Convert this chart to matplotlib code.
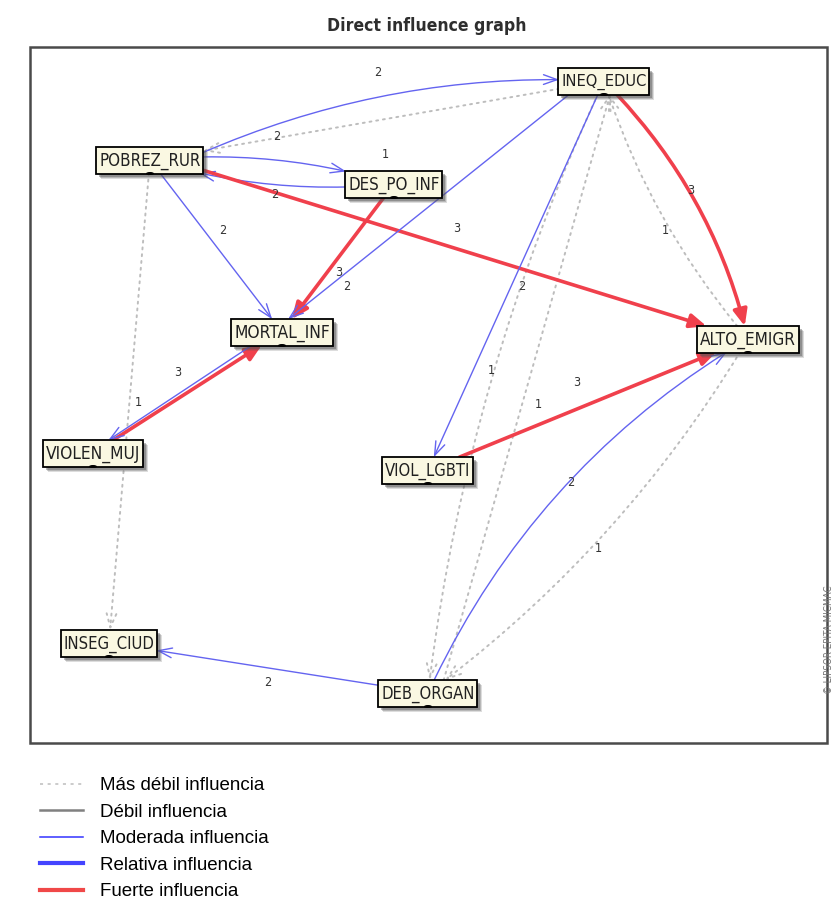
import matplotlib
matplotlib.use("Agg")
import matplotlib.pyplot as plt
from matplotlib.patches import Rectangle, FancyArrowPatch, Ellipse
from matplotlib.lines import Line2D
from matplotlib import font_manager as fm
from matplotlib.font_manager import FontProperties

# ---------------- data ----------------
node_names = ["INEQ_EDUC", "POBREZ_RUR", "DES_PO_INF", "MORTAL_INF", "ALTO_EMIGR",
              "VIOLEN_MUJ", "VIOL_LGBTI", "INSEG_CIUD", "DEB_ORGAN"]

edge_src = ["POBREZ_RUR", "INEQ_EDUC", "POBREZ_RUR", "DES_PO_INF", "POBREZ_RUR",
            "POBREZ_RUR", "DES_PO_INF", "INEQ_EDUC", "INEQ_EDUC", "INEQ_EDUC",
            "ALTO_EMIGR", "INEQ_EDUC", "DEB_ORGAN", "VIOLEN_MUJ", "MORTAL_INF",
            "POBREZ_RUR", "VIOL_LGBTI", "DEB_ORGAN", "ALTO_EMIGR", "DEB_ORGAN"]
edge_dst = ["INEQ_EDUC", "POBREZ_RUR", "DES_PO_INF", "POBREZ_RUR", "ALTO_EMIGR",
            "MORTAL_INF", "MORTAL_INF", "MORTAL_INF", "VIOL_LGBTI", "ALTO_EMIGR",
            "INEQ_EDUC", "DEB_ORGAN", "INEQ_EDUC", "MORTAL_INF", "VIOLEN_MUJ",
            "INSEG_CIUD", "ALTO_EMIGR", "ALTO_EMIGR", "DEB_ORGAN", "INSEG_CIUD"]
# influence level: 1 weakest, 2 weak, 3 moderate, 4 relative, 5 strong
edge_level = [3, 1, 3, 3, 5, 3, 5, 3, 3, 5, 1, 1, 1, 5, 3, 1, 5, 3, 1, 3]
edge_value = ["2", "2", "1", "2", "3", "2", "3", "2", "2", "3",
              "1", "1", "1", "3", "1", None, "3", "2", "1", "2"]

legend_labels = ["Más débil influencia", "Débil influencia", "Moderada influencia",
                 "Relativa influencia", "Fuerte influencia"]
title_text = "Direct influence graph"
credit_text = "© LIPSOR-EPITA-MICMAC"

# ---------------- layout (pixel space) ----------------
node_pos = {"INEQ_EDUC": (604, 81), "POBREZ_RUR": (150, 160), "DES_PO_INF": (394, 184),
            "MORTAL_INF": (282, 332), "ALTO_EMIGR": (748, 339), "VIOLEN_MUJ": (93, 453),
            "VIOL_LGBTI": (428, 470), "INSEG_CIUD": (109, 643), "DEB_ORGAN": (428, 693)}
node_w = {"INEQ_EDUC": 91, "POBREZ_RUR": 107, "DES_PO_INF": 97, "MORTAL_INF": 102,
          "ALTO_EMIGR": 102, "VIOLEN_MUJ": 100, "VIOL_LGBTI": 91, "INSEG_CIUD": 96,
          "DEB_ORGAN": 99}
node_h = 27

edge_rad = [-0.12, 0, -0.1, -0.1, 0, 0, 0, 0, 0, -0.14,
            -0.1, 0.08, 0, 0, 0, 0, 0, -0.155, -0.1, 0]
edge_offA = [(0, 0)] * 20
edge_offB = [(0, 0)] * 20
edge_offA[0] = (45, -4)
edge_offA[7] = (-18, 0); edge_offB[7] = (-10, 0)
edge_offA[12] = (12, 0); edge_offB[12] = (10, 0)
edge_offA[14] = (-10, 0); edge_offB[14] = (-4, 0)
edge_offA[4] = (20, 0)
label_pos = [(378, 73), (277, 137), (385, 155), (275, 195), (457, 228),
             (223, 231), (339, 272), (347, 287), (522, 287), (691, 190),
             (665, 230), (491, 370), (538, 405), (178, 373), (138, 402),
             None, (577, 383), (571, 483), (598, 548), (268, 683)]

W, H = 834, 906
BLUE = "#6464f0"
RED = "#f0404c"
DOT = "#bdbdbd"


def find_font(keys, bold=False):
    for key in keys:
        for f in fm.fontManager.ttflist:
            fn = f.fname.replace("-", "").replace("_", "").lower()
            if key.lower() in fn:
                isb = "bold" in fn
                if isb == bold and "oblique" not in fn and "italic" not in fn:
                    return f.fname
    return None


cond_reg = find_font(["DejaVuSansCondensed", "LiberationSansNarrow", "ArialNarrow",
                      "RobotoCondensed", "NotoSansCondensed", "OpenSansCondensed"])
cond_bold = find_font(["DejaVuSansCondensedBold", "LiberationSansNarrowBold",
                       "RobotoCondensedBold", "NotoSansCondensedBold"], bold=True)


def fp(path, fallback="Liberation Sans", weight="normal"):
    if path:
        return FontProperties(fname=path)
    return FontProperties(family=[fallback, "DejaVu Sans"], weight=weight)


fp_node = fp(cond_reg)
fp_title = fp(cond_bold, weight="bold")

fig = plt.figure(figsize=(W / 100, H / 100), dpi=100)
ax = fig.add_axes([0, 0, 1, 1])
ax.set_xlim(0, W)
ax.set_ylim(H, 0)
ax.axis("off")
renderer = fig.canvas.get_renderer()


def fit_text(t, target_w, max_size, vertical=False):
    t.set_fontsize(max_size)
    ext = t.get_window_extent(renderer=renderer)
    w = ext.height if vertical else ext.width
    if w > target_w:
        t.set_fontsize(max_size * target_w / w)


# frame
ax.add_patch(Rectangle((30, 47), 797, 696, fill=False, edgecolor="#4a4a4a", lw=1.8, zorder=1))

# title
tt = ax.text(427, 26, title_text, ha="center", va="center", color="#2e2e2e",
             fontproperties=fp_title.copy())
fit_text(tt, 200, 15)
ct = ax.text(829, 640, credit_text, rotation=90, ha="center", va="center",
             color="#777777", fontproperties=fp_node.copy())
ct.set_fontsize(7)

# node boxes
boxes = {}
for n in node_names:
    cx, cy = node_pos[n]
    w = node_w[n]
    for k, a in enumerate([0.2, 0.28, 0.4]):
        off = 5 - k
        ax.add_patch(Rectangle((cx - w / 2 + off, cy - node_h / 2 + off), w, node_h,
                               facecolor="#555555", edgecolor="none", alpha=a, zorder=5))
    r = Rectangle((cx - w / 2, cy - node_h / 2), w, node_h, facecolor="#faf8e2",
                  edgecolor="black", lw=1.3, zorder=6)
    ax.add_patch(r)
    boxes[n] = r
    ax.add_patch(Ellipse((cx, cy + node_h / 2), 8, 3, facecolor="black", zorder=7))
    t = ax.text(cx, cy + 1, n, ha="center", va="center", color="#202020",
                fontproperties=fp_node.copy(), zorder=8)
    fit_text(t, w - 5, 14)

# edges
for i in range(len(edge_src)):
    s, d, lev = edge_src[i], edge_dst[i], edge_level[i]
    (x1, y1), (x2, y2) = node_pos[s], node_pos[d]
    x1 += edge_offA[i][0]; y1 += edge_offA[i][1]
    x2 += edge_offB[i][0]; y2 += edge_offB[i][1]
    if lev == 5:
        style = dict(arrowstyle="-|>,head_length=0.7,head_width=0.3", color=RED, lw=2.6,
                     mutation_scale=14, zorder=3)
    elif lev == 3:
        style = dict(arrowstyle="->,head_length=0.7,head_width=0.25", color=BLUE, lw=1.0,
                     mutation_scale=14, zorder=3)
    elif lev == 4:
        style = dict(arrowstyle="->,head_length=0.7,head_width=0.25", color=BLUE, lw=2.5,
                     mutation_scale=14, zorder=3)
    elif lev == 2:
        style = dict(arrowstyle="->,head_length=0.7,head_width=0.25", color="#888888", lw=1.5,
                     mutation_scale=14, zorder=3)
    else:
        style = dict(arrowstyle="->,head_length=0.7,head_width=0.25", color=DOT, lw=1.4,
                     mutation_scale=14, linestyle=(0, (1, 2.5)), zorder=2)
    arr = FancyArrowPatch((x1, y1), (x2, y2), patchA=boxes[s], patchB=boxes[d],
                          shrinkA=0, shrinkB=0,
                          connectionstyle=f"arc3,rad={edge_rad[i]}", **style)
    ax.add_patch(arr)
    if edge_value[i] is not None and label_pos[i] is not None:
        lx, ly = label_pos[i]
        lt = ax.text(lx, ly, edge_value[i], ha="center", va="center",
                     color="#333333", fontproperties=fp_node.copy(), zorder=9)
        lt.set_fontsize(9)

# legend
handles = [
    Line2D([], [], color=DOT, lw=1.1, linestyle=(0, (2, 3))),
    Line2D([], [], color="#808080", lw=1.8),
    Line2D([], [], color="#3333ff", lw=1.1),
    Line2D([], [], color="#4444ff", lw=3.0),
    Line2D([], [], color="#f04848", lw=3.0),
]
leg = ax.legend(handles, legend_labels, loc="upper left", bbox_to_anchor=(40, 777),
                bbox_transform=ax.transData, frameon=False,
                prop=FontProperties(family=["Liberation Sans", "DejaVu Sans"], size=13.5),
                handlelength=2.3, handletextpad=0.9, labelspacing=0.5,
                borderpad=0, borderaxespad=0)

fig.savefig("out.png", dpi=100)
